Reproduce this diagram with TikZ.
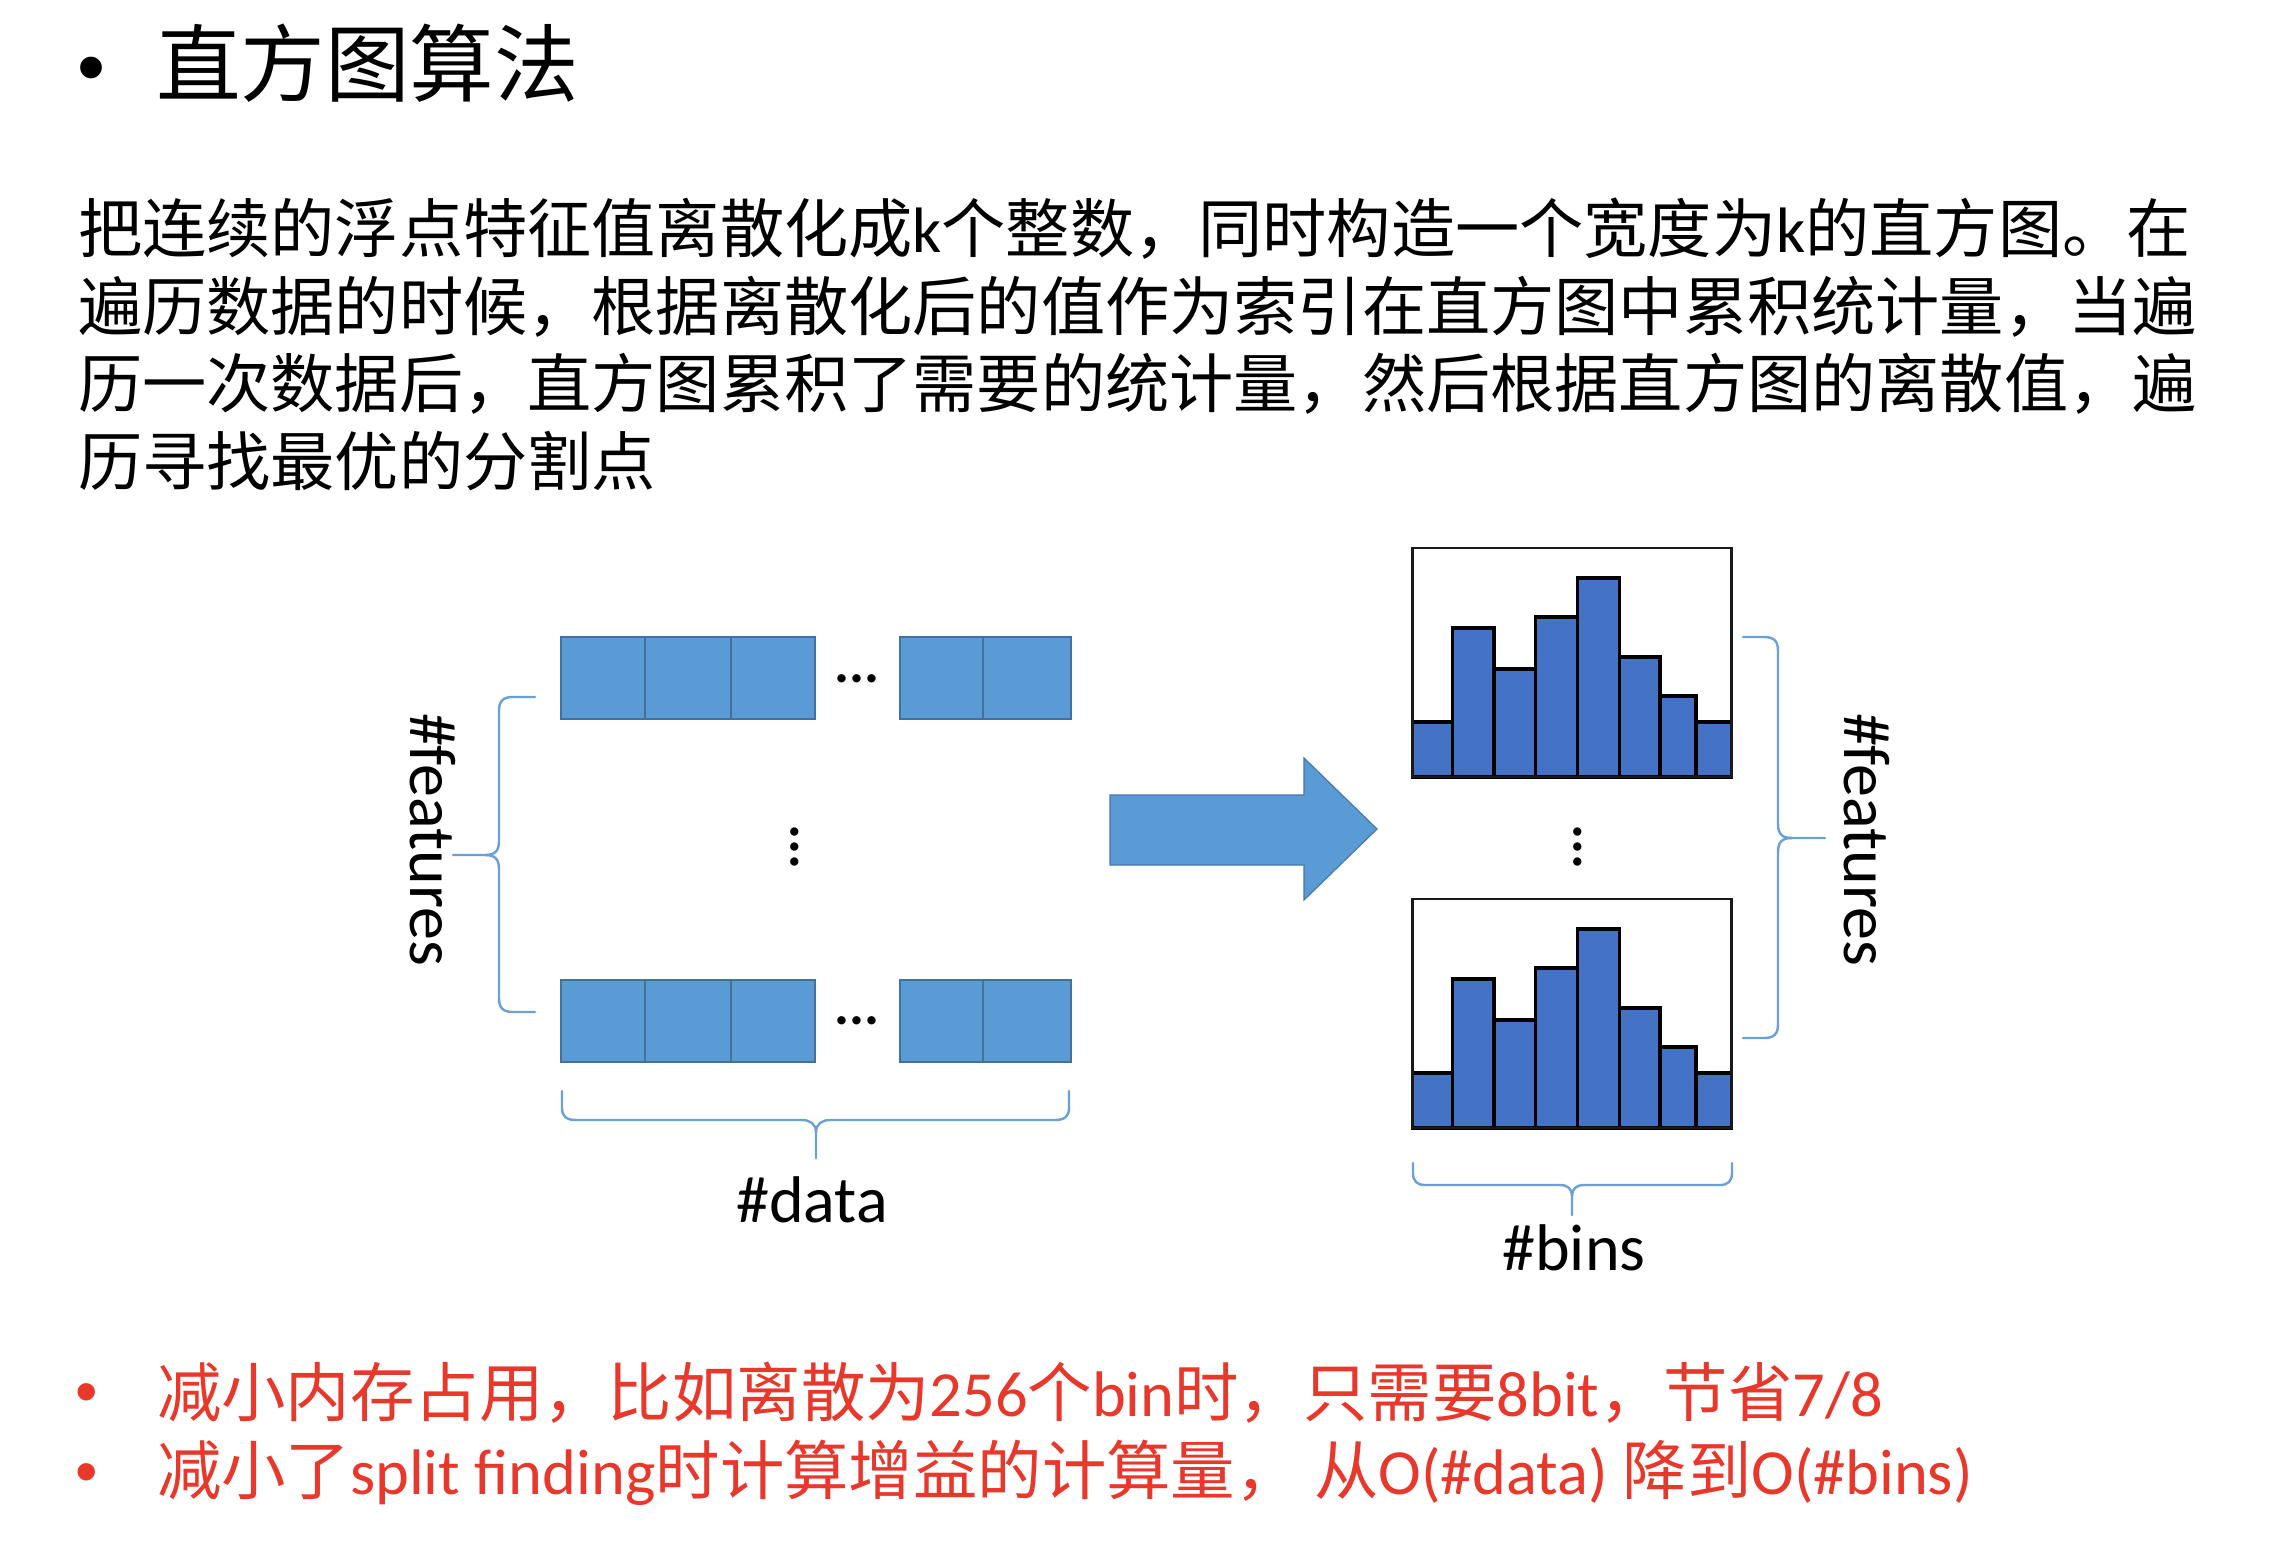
\documentclass[tikz,border=0pt]{standalone}
\usepackage{fontspec}
\setmainfont{Carlito}
\newfontfamily\cjk{Noto Sans CJK SC}
\newfontfamily\lat{Carlito}
\newfontfamily\bulletfont{Liberation Sans}
\XeTeXlinebreaklocale "zh"
\XeTeXlinebreakskip=0pt plus 1pt

\definecolor{cellfill}{RGB}{91,155,213}
\definecolor{celledge}{RGB}{65,113,156}
\definecolor{barfill}{RGB}{68,114,196}
\definecolor{bracecol}{RGB}{105,160,216}
\definecolor{notered}{RGB}{232,56,44}

\tikzset{
  every node/.style={inner sep=0pt, outer sep=0pt},
  cellbox/.style={fill=cellfill, draw=celledge, line width=1pt},
  flowarrow/.style={fill=cellfill, draw=celledge!80!cellfill, line width=0.6pt},
  bracepath/.style={draw=bracecol, line width=1.2pt, line cap=round, line join=round},
  histframe/.style={draw=black!90, line width=1.3pt},
  histbar/.style={fill=barfill, draw=black, line width=1.7pt},
  bodytext/.style={font=\cjk\fontsize{32.1}{38.75}\selectfont},
  paraline/.style={bodytext, anchor=base west, text width=1062.5pt, align=justify},
  notetext/.style={font=\cjk\fontsize{32.2}{38.75}\selectfont, text=notered, anchor=base west},
  dlabel/.style={font=\lat\fontsize{33}{40}\selectfont, text=black},
  dots/.style={font=\lat\bfseries\fontsize{28}{30}\selectfont},
  notebullet/.style={anchor=base, text=notered, font=\bulletfont\fontsize{32}{34}\selectfont},
}

\begin{document}
\begin{tikzpicture}[x=0.5pt, y=-0.5pt]
  % page
  \fill[white] (0,0) rectangle (2284,1554);
  \useasboundingbox (0,0) rectangle (2284,1554);

  % heading
  \node[anchor=base, font=\bulletfont\fontsize{40}{44}\selectfont] (hbullet) at (92,94) {•};
  \node[anchor=base west, font=\cjk\fontsize{42.3}{50}\selectfont] (heading) at (156,95) {直方图算法};

  % description paragraph, one justified line per node
  \node[paraline] (p1) at (78,252.5) {\noindent\parfillskip=0pt 把连续的浮点特征值离散化成{\lat k}个整数，同时构造一个宽度为{\lat k}的直方图。在};
  \node[paraline] (p2) at (78,330) {\noindent\parfillskip=0pt 遍历数据的时候，根据离散化后的值作为索引在直方图中累积统计量，当遍};
  \node[paraline] (p3) at (78,407.5) {\noindent\parfillskip=0pt 历一次数据后，直方图累积了需要的统计量，然后根据直方图的离散值，遍};
  \node[bodytext, anchor=base west] (p4) at (78,485) {历寻找最优的分割点};

  % data matrix: two rows of cells
  \foreach \y in {637,980} {
    \foreach \xa/\xb in {561/645, 645/731, 731/815, 900/983, 983/1071}
      \draw[cellbox] (\xa,\y) rectangle (\xb,\y+81.5);
  }
  \node[dots] (hdotsA) at (857,679) {...};
  \node[dots] (hdotsB) at (857,1021) {...};
  \node[dots, rotate=90] (vdotsL) at (795,847) {...};

  % left brace and its label
  \draw[bracepath] (535,697) -- (513,697) .. controls (503,697) and (499,701) .. (499,711)
    -- (499,841) .. controls (499,851) and (495,855) .. (485,855) -- (453,855);
  \draw[bracepath] (485,855) .. controls (495,855) and (499,859) .. (499,869)
    -- (499,998) .. controls (499,1008) and (503,1012) .. (513,1012) -- (535,1012);
  \node[dlabel, rotate=-90, anchor=base west] (featL) at (410,713) {\#features};

  % bottom brace under the data
  \draw[bracepath] (562,1091) -- (562,1108) .. controls (562,1116) and (566,1120) .. (576,1120)
    -- (802,1120) .. controls (810,1120) and (816,1124) .. (816,1132) -- (816,1158);
  \draw[bracepath] (816,1132) .. controls (816,1124) and (822,1120) .. (830,1120)
    -- (1055,1120) .. controls (1065,1120) and (1069,1116) .. (1069,1108) -- (1069,1091);
  \node[dlabel, anchor=base] (datalbl) at (812,1222) {\#data};

  % block arrow
  \filldraw[flowarrow] (1110,795) -- (1304,795) -- (1304,758) -- (1377,829)
    -- (1304,900) -- (1304,865) -- (1110,865) -- cycle;

  % two histograms
  \foreach \yb in {777,1128} {
    \foreach \xa/\xb/\h in {1412.7/1452.7/55, 1452.7/1494/149, 1494/1535.7/108,
        1535.7/1577.3/160, 1577.3/1619.3/199, 1619.3/1660/120, 1660/1696/81, 1696/1731.7/55}
      \draw[histbar] (\xa,\yb) rectangle (\xb,\yb-\h);
    \draw[histframe] (1412.7,\yb) rectangle (1731.7,\yb-229);
  }
  \node[dots, rotate=90] (vdotsR) at (1578,847) {...};

  % right brace and its label
  \draw[bracepath] (1743,637) -- (1764,637) .. controls (1774,637) and (1778,641) .. (1778,651)
    -- (1778,824) .. controls (1778,834) and (1782,838) .. (1792,838) -- (1825,838);
  \draw[bracepath] (1792,838) .. controls (1782,838) and (1778,842) .. (1778,852)
    -- (1778,1024) .. controls (1778,1034) and (1774,1038) .. (1764,1038) -- (1743,1038);
  \node[dlabel, rotate=-90, anchor=base west] (featR) at (1844,713) {\#features};

  % brace under the bins
  \draw[bracepath] (1413,1163) -- (1413,1173) .. controls (1413,1181) and (1417,1185) .. (1425,1185)
    -- (1560,1185) .. controls (1568,1185) and (1572,1189) .. (1572,1196) -- (1572,1215);
  \draw[bracepath] (1572,1196) .. controls (1572,1189) and (1576,1185) .. (1584,1185)
    -- (1720,1185) .. controls (1728,1185) and (1732,1181) .. (1732,1173) -- (1732,1163);
  \node[dlabel, anchor=base] (binslbl) at (1574,1270) {\#bins};

  % notes in red
  \node[notebullet] (nb1) at (87,1413) {•};
  \node[notetext] (n1) at (157,1416) {减小内存占用，比如离散为{\lat 256}个{\lat bin}时，只需要{\lat 8bit}，节省{\lat 7/8}};
  \node[notebullet] (nb2) at (87,1493) {•};
  \node[notetext] (n2) at (157,1494) {减小了{\lat split finding}时计算增益的计算量，{\lat\ }从{\lat O(\#data) }降到{\lat O(\#bins)}};
\end{tikzpicture}
\end{document}
